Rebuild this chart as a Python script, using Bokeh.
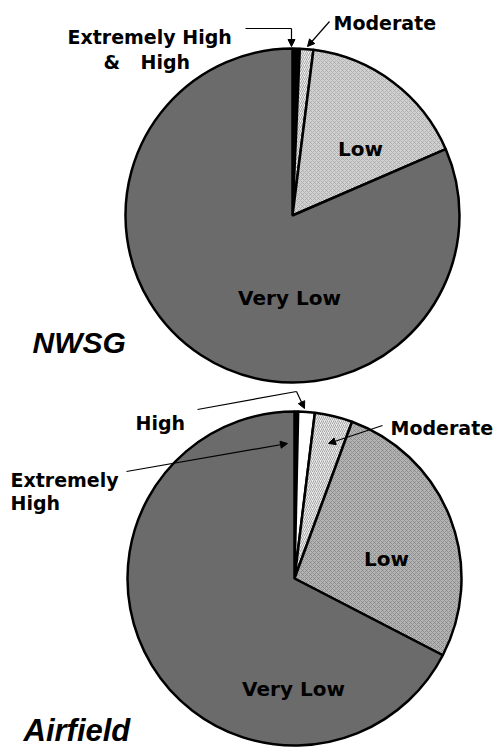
import math
from bokeh.plotting import figure
from bokeh.models import Range1d, Arrow, NormalHead
from bokeh.core.properties import value
from bokeh.embed import file_html
from bokeh.resources import INLINE

# ---- data (percent of area) ----
top_categories = ["Extremely High & High", "Moderate", "Low", "Very Low"]
top_values = [0.7, 1.3, 16.5, 81.5]
bottom_categories = ["Extremely High", "High", "Moderate", "Low", "Very Low"]
bottom_values = [0.35, 1.6, 3.65, 27.0, 67.4]
titles = ["NWSG", "Airfield"]

# ---- styles ----
styles = {
    "Extremely High & High": dict(fill_color="black", hatch_pattern=None, hatch_color="black"),
    "Extremely High": dict(fill_color="black", hatch_pattern=None, hatch_color="black"),
    "High": dict(fill_color="white", hatch_pattern=None, hatch_color="black"),
    "Moderate": dict(fill_color="#ececec", hatch_pattern="right_diagonal_line", hatch_color="#8a8a8a"),
    "Low_top": dict(fill_color="#d2d2d2", hatch_pattern="diagonal_cross", hatch_color="#a0a0a0"),
    "Low_bottom": dict(fill_color="#b4b4b4", hatch_pattern="diagonal_cross", hatch_color="#808080"),
    "Very Low": dict(fill_color="#6b6b6b", hatch_pattern=None, hatch_color="black"),
}

W, H = 493, 750
PAGE_H = 750
p = figure(width=W, height=H, output_backend="svg", toolbar_location=None,
           x_range=Range1d(0, W), y_range=Range1d(0, H),
           x_axis_location=None, y_axis_location=None, min_border=0)
p.grid.visible = False
p.outline_line_color = None
p.background_fill_color = "white"


def Y(py):
    return PAGE_H - py


def draw_pie(cats, vals, cx, cy, r, low_key):
    total = float(sum(vals))
    cum = 0.0
    for c, v in zip(cats, vals):
        a0 = math.pi / 2 - 2 * math.pi * (cum + v) / total
        a1 = math.pi / 2 - 2 * math.pi * cum / total
        cum += v
        st = styles[low_key] if c == "Low" else styles[c]
        kw = dict(fill_color=st["fill_color"])
        if st["hatch_pattern"]:
            kw.update(hatch_pattern=st["hatch_pattern"], hatch_color=st["hatch_color"],
                      hatch_scale=4, hatch_weight=0.7)
        p.wedge(x=cx, y=cy, radius=r, start_angle=a0, end_angle=a1,
                line_color="black", line_width=2.5, **kw)


draw_pie(top_categories, top_values, 292, Y(215), 167, "Low_top")
draw_pie(bottom_categories, bottom_values, 294, Y(578), 167, "Low_bottom")

font = value("DejaVu Sans")


def label(x, y, t, size="19px", align="left", style="bold", f=font):
    p.text(x=[x], y=[Y(y)], text=[t], text_font=f, text_font_style=style,
           text_font_size=size, text_align=align, text_baseline="alphabetic",
           text_color="black")


def arrow(x0, y0, x1, y1):
    p.add_layout(Arrow(end=NormalHead(size=7, fill_color="black", line_color="black"),
                       x_start=x0, y_start=Y(y0), x_end=x1, y_end=Y(y1),
                       line_width=1.2, line_color="black"))


# ---- top pie labels ----
label(67, 36, "Extremely High")
label(103, 61, "&")
label(140, 61, "High")
p.line(x=[245, 291], y=[Y(28), Y(28)], line_color="black", line_width=1.2)
arrow(291, 28, 291, 46)
label(333, 22, top_categories[1])
arrow(329, 21, 307, 46)
label(360, 148, top_categories[2], size="20px", align="center")
label(289, 297, top_categories[3], size="20px", align="center")
label(32, 342, titles[0], size="30px", style="bold italic", f=value("Liberation Sans"))

# ---- bottom pie labels ----
label(135, 422, bottom_categories[1])
p.line(x=[197, 296], y=[Y(409), Y(391)], line_color="black", line_width=1.2)
arrow(296, 391, 304, 408)
label(390, 427, bottom_categories[2])
arrow(382, 425, 328, 443)
label(10, 479, "Extremely")
label(10, 502, "High")
arrow(126, 471, 287, 443)
label(386, 558, bottom_categories[3], size="20px", align="center")
label(293, 688, bottom_categories[4], size="20px", align="center")
label(23, 730, titles[1], size="31px", style="bold italic", f=value("Liberation Sans"))

open("out.html", "w").write(file_html(p, INLINE))
